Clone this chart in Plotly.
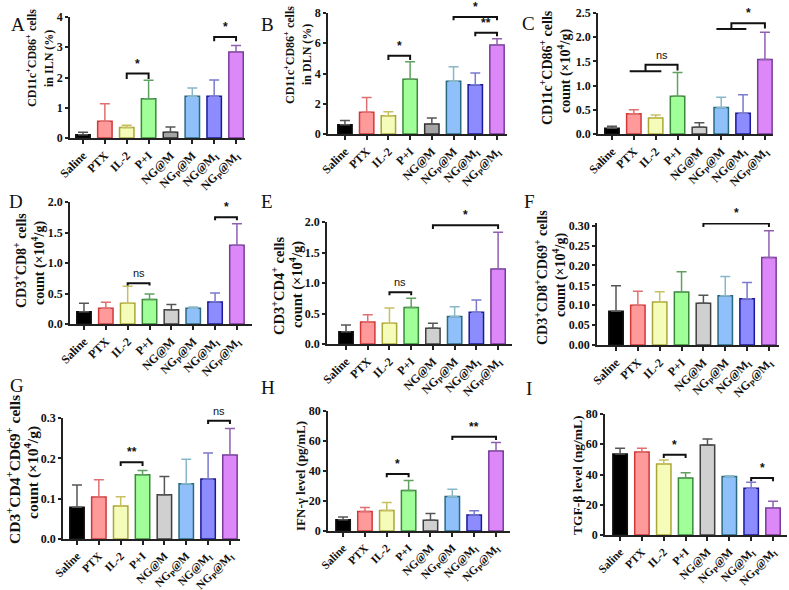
import plotly.graph_objects as go

groups = ["Saline", "PTX", "IL-2", "P+I", "NG@M", "NGp@M", "NG@MI", "NGp@MI"]
tick_text = ["Saline", "PTX", "IL-2", "P+I", "NG@M", "NG<sub>P</sub>@M",
             "NG@M<sub>I</sub>", "NG<sub>P</sub>@M<sub>I</sub>"]

# mean and SD per panel
a_mean = [0.11, 0.55, 0.35, 1.30, 0.19, 1.38, 1.38, 2.84]
a_sd = [0.08, 0.58, 0.07, 0.61, 0.17, 0.27, 0.54, 0.22]
b_mean = [0.61, 1.43, 1.21, 3.62, 0.66, 3.49, 3.25, 5.88]
b_sd = [0.29, 0.98, 0.26, 1.16, 0.39, 0.96, 0.79, 0.41]
c_mean = [0.12, 0.42, 0.33, 0.78, 0.14, 0.55, 0.43, 1.54]
c_sd = [0.04, 0.08, 0.06, 0.49, 0.09, 0.21, 0.38, 0.56]
d_mean = [0.20, 0.26, 0.34, 0.40, 0.235, 0.26, 0.36, 1.29]
d_sd = [0.14, 0.095, 0.28, 0.09, 0.085, 0.02, 0.15, 0.355]
e_mean = [0.20, 0.36, 0.34, 0.60, 0.26, 0.45, 0.52, 1.23]
e_sd = [0.11, 0.12, 0.25, 0.15, 0.08, 0.16, 0.20, 0.60]
f_mean = [0.085, 0.100, 0.108, 0.133, 0.105, 0.124, 0.116, 0.220]
f_sd = [0.064, 0.035, 0.026, 0.051, 0.020, 0.048, 0.041, 0.067]
g_mean = [0.079, 0.104, 0.082, 0.159, 0.110, 0.137, 0.149, 0.208]
g_sd = [0.055, 0.043, 0.023, 0.011, 0.045, 0.061, 0.064, 0.066]
h_mean = [7.5, 13.0, 13.7, 27.0, 7.1, 23.0, 10.6, 53.3]
h_sd = [1.8, 2.7, 5.3, 6.6, 4.6, 4.8, 2.9, 5.7]
i_mean = [53.6, 54.9, 46.9, 37.7, 59.5, 38.6, 30.9, 17.9]
i_sd = [3.7, 2.4, 2.7, 3.5, 4.0, 0.6, 3.9, 4.4]

# y-axis titles, one entry per text line
y_titles = {
    "A": ["CD11c<sup>+</sup>CD86<sup>+</sup> cells", "in ILN (%)"],
    "B": ["CD11c<sup>+</sup>CD86<sup>+</sup> cells", "in DLN (%)"],
    "C": ["CD11c<sup>+</sup>CD86<sup>+</sup> cells", "count (×10<sup>4</sup>/g)"],
    "D": ["CD3<sup>+</sup>CD8<sup>+</sup> cells", "count (×10<sup>4</sup>/g)"],
    "E": ["CD3<sup>+</sup>CD4<sup>+</sup> cells", "count (×10<sup>4</sup>/g)"],
    "F": ["CD3<sup>+</sup>CD8<sup>+</sup>CD69<sup>+</sup> cells", "count (×10<sup>4</sup>/g)"],
    "G": ["CD3<sup>+</sup>CD4<sup>+</sup>CD69<sup>+</sup> cells", "count (×10<sup>4</sup>/g)"],
    "H": ["IFN-γ level (pg/mL)"],
    "I": ["TGF-β level (ng/mL)"],
}

y_ticks = {
    "A": [0, 1, 2, 3, 4],
    "B": [0, 2, 4, 6, 8],
    "C": [0.0, 0.5, 1.0, 1.5, 2.0, 2.5],
    "D": [0.0, 0.5, 1.0, 1.5, 2.0],
    "E": [0.0, 0.5, 1.0, 1.5, 2.0],
    "F": [0.00, 0.05, 0.10, 0.15, 0.20, 0.25, 0.30],
    "G": [0.0, 0.1, 0.2, 0.3],
    "H": [0, 20, 40, 60, 80],
    "I": [0, 20, 40, 60, 80],
}
y_fmt = {"A": ".0f", "B": ".0f", "C": ".1f", "D": ".1f", "E": ".1f",
         "F": ".2f", "G": ".1f", "H": ".0f", "I": ".0f"}

data = {"A": (a_mean, a_sd), "B": (b_mean, b_sd), "C": (c_mean, c_sd),
        "D": (d_mean, d_sd), "E": (e_mean, e_sd), "F": (f_mean, f_sd),
        "G": (g_mean, g_sd), "H": (h_mean, h_sd), "I": (i_mean, i_sd)}

# significance brackets: (panel, left, right, height, drop, label)
brackets = [
    ("A", 2, 3, 2.13, 0.18, "*"),
    ("A", 6, 7, 3.34, 0.14, "*"),
    ("B", 2, 3, 5.17, 0.28, "*"),
    ("B", 5, 7, 7.74, 0.22, "*"),
    ("B", 6, 7, 6.69, 0.22, "**"),
    ("D", 2, 3, 0.67, 0.04, "ns"),
    ("D", 6, 7, 1.75, 0.05, "*"),
    ("E", 2, 3, 0.85, 0.05, "ns"),
    ("E", 4, 7, 1.945, 0.06, "*"),
    ("F", 4, 7, 0.3055, 0.009, "*"),
    ("G", 2, 3, 0.190, 0.009, "**"),
    ("G", 6, 7, 0.293, 0.008, "ns"),
    ("H", 2, 3, 38.0, 2.2, "*"),
    ("H", 5, 7, 62.8, 2.2, "**"),
    ("I", 2, 3, 53.1, 2.2, "*"),
    ("I", 6, 7, 37.7, 2.2, "*"),
]
# grouped brackets in C: (panel, group_lo, group_hi, group_y, right, top, right_end, label)
group_brackets = [
    ("C", 0.81, 2.26, 1.295, 3.0, 1.43, 1.31, "ns"),
    ("C", 4.78, 6.15, 2.17, 7.0, 2.29, 2.18, "*"),
]

fills = ["#000000", "#FF9A9A", "#F5FBB8", "#A0FF98", "#D0D0D0", "#90C0FA", "#8C8CFF", "#DD88F8"]
lines_c = ["#111111", "#D03838", "#A8A838", "#3A8A3A", "#404040", "#2A6A80", "#1A1A9A", "#7A3A9A"]
err_c = ["#555555", "#E07070", "#C8C060", "#60A060", "#555555", "#88B8C8", "#7A7AD0", "#9060B0"]

# panel geometry in pixels: left, right, top(top tick), bottom(zero), x-range, top tick value
W, H = 789, 590
geom = {
    "A": (70, 245, 17, 138, [-0.595, 7.41], 4),
    "B": (328, 507, 13, 134, [-0.78, 7.46], 8),
    "C": (598, 773, 13, 134, [-0.64, 7.37], 2.5),
    "D": (70, 252, 202, 324, [-0.64, 7.69], 2.0),
    "E": (327, 512, 222, 344, [-0.875, 7.64], 2.0),
    "F": (597, 779, 223, 345, [-0.87, 7.46], 0.30),
    "G": (63, 240, 418, 539, [-0.64, 7.46], 0.3),
    "H": (328, 510, 411, 531, [-0.69, 7.64], 80),
    "I": (605, 787, 414, 535, [-0.69, 7.64], 80),
}
letter_pos = {"A": (9, 12), "B": (267, 12), "C": (537, 11), "D": (7, 202), "E": (267, 202),
              "F": (537, 202), "G": (8, 398), "H": (268, 400), "I": (534, 401)}
# y-title line centres (px) and font size
title_pos = {
    "A": ([(31, 58), (49, 59)], 12),
    "B": ([(290, 55), (307, 55)], 12),
    "C": ([(546, 68), (564, 71)], 14),
    "D": ([(20, 261), (38, 263)], 14),
    "E": ([(278, 286), (296, 285)], 14.5),
    "F": ([(541, 278), (559, 275)], 14),
    "G": ([(13, 470), (31, 473)], 15.5),
    "H": ([(300, 476)], 13),
    "I": ([(577, 475)], 13.5),
}
xtick_size = {"A": 12, "B": 12, "C": 12, "D": 12, "E": 12, "F": 12, "G": 11.5, "H": 11.5, "I": 11.5}

SERIF = "Liberation Serif"
SANS = "Liberation Sans"

fig = go.Figure()
ann = []
shapes = []
for k, p in enumerate("ABCDEFGHI"):
    idx = "" if k == 0 else str(k + 1)
    xa, ya = "x" + idx, "y" + idx
    mean, sd = data[p]
    gfill = list(fills)
    gline = list(lines_c)
    if p in ("A", "B"):
        gfill[4] = "#A4A4A4"
        gline[4] = "#303030"
    fig.add_trace(go.Bar(
        x=list(range(8)), y=mean, width=0.66,
        marker=dict(color=gfill, line=dict(color=gline, width=1.5)),
        xaxis=xa, yaxis=ya, showlegend=False,
    ))
    for j in range(8):
        fig.add_trace(go.Scatter(
            x=[j], y=[mean[j]], mode="markers", marker=dict(size=1, opacity=0),
            error_y=dict(type="data", array=[sd[j]], arrayminus=[0], symmetric=False,
                         color=err_c[j], thickness=1.5, width=5),
            xaxis=xa, yaxis=ya, showlegend=False, hoverinfo="skip",
        ))
    l, r, t, b, xr, ytop = geom[p]
    yr = [0, ytop * 1.022] if p == "F" else [0, ytop]
    lay_x = dict(domain=[l / W, r / W], range=xr, tickvals=list(range(8)), ticktext=tick_text,
                 tickangle=-45, showline=True, linecolor="#222222", linewidth=1.5,
                 ticks="outside", ticklen=4, tickwidth=1.5, tickcolor="#222222",
                 showgrid=False, zeroline=False, automargin=False, fixedrange=True,
                 tickfont=dict(family=SERIF, size=xtick_size[p], color="#111111", weight="bold"),
                 anchor=ya)
    lay_y = dict(domain=[1 - b / H, 1 - t / H], range=yr, tickvals=y_ticks[p],
                 tickformat=y_fmt[p], showline=True, linecolor="#222222", linewidth=1.5,
                 ticks="outside", ticklen=3, tickwidth=1.5, tickcolor="#222222",
                 showgrid=False, zeroline=False, automargin=False,
                 tickfont=dict(family=SERIF, size=12, color="#111111", weight="bold"),
                 anchor=xa)
    fig.layout["xaxis" + idx] = lay_x
    fig.layout["yaxis" + idx] = lay_y
    lx, ly = letter_pos[p]
    ann.append(dict(x=lx / W, y=1 - ly / H, xref="paper", yref="paper", text=p,
                    showarrow=False, font=dict(family=SERIF, size=19, color="#111111")))
    centres, ts = title_pos[p]
    for line_text, (tx, ty) in zip(y_titles[p], centres):
        ann.append(dict(x=tx / W, y=1 - ty / H, xref="paper", yref="paper", text=line_text,
                        textangle=-90, showarrow=False, xanchor="center", yanchor="middle",
                        font=dict(family=SERIF, size=ts, color="#111111", weight="bold")))
    for (bp, x1, x2, yh, dr, lab) in brackets:
        if bp != p:
            continue
        shapes.append(dict(type="path", xref=xa, yref=ya,
                           path=f"M{x1},{yh - dr} L{x1},{yh} L{x2},{yh} L{x2},{yh - dr}",
                           line=dict(color="#111111", width=2)))
        ann.append(dict(x=(x1 + x2) / 2, y=yh, xref=xa, yref=ya, text=lab, showarrow=False,
                        yanchor="bottom", yshift=1 if lab != "ns" else 2,
                        font=dict(family=SANS, size=12 if lab != "ns" else 11, color="#111111",
                                  weight="bold" if lab != "ns" else "normal")))
    for (bp, g1, g2, gy, rx, top, rdrop, lab) in group_brackets:
        if bp != p:
            continue
        mid = (g1 + g2) / 2
        shapes.append(dict(type="line", xref=xa, yref=ya, x0=g1, x1=g2, y0=gy, y1=gy,
                           line=dict(color="#111111", width=2)))
        shapes.append(dict(type="path", xref=xa, yref=ya,
                           path=f"M{mid},{gy} L{mid},{top} L{rx},{top} L{rx},{rdrop}",
                           line=dict(color="#111111", width=2)))
        ann.append(dict(x=(mid + rx) / 2, y=top, xref=xa, yref=ya, text=lab, showarrow=False,
                        yanchor="bottom", yshift=2 if lab == "ns" else 1,
                        font=dict(family=SANS, size=11 if lab == "ns" else 12, color="#111111",
                                  weight="normal" if lab == "ns" else "bold")))

fig.update_layout(width=W, height=H, margin=dict(l=0, r=0, t=0, b=0),
                  paper_bgcolor="white", plot_bgcolor="white",
                  annotations=ann, shapes=shapes, bargap=0.3)

fig.write_html("out.html", config={"displayModeBar": False},
               post_script="document.body.style.margin='0';")
